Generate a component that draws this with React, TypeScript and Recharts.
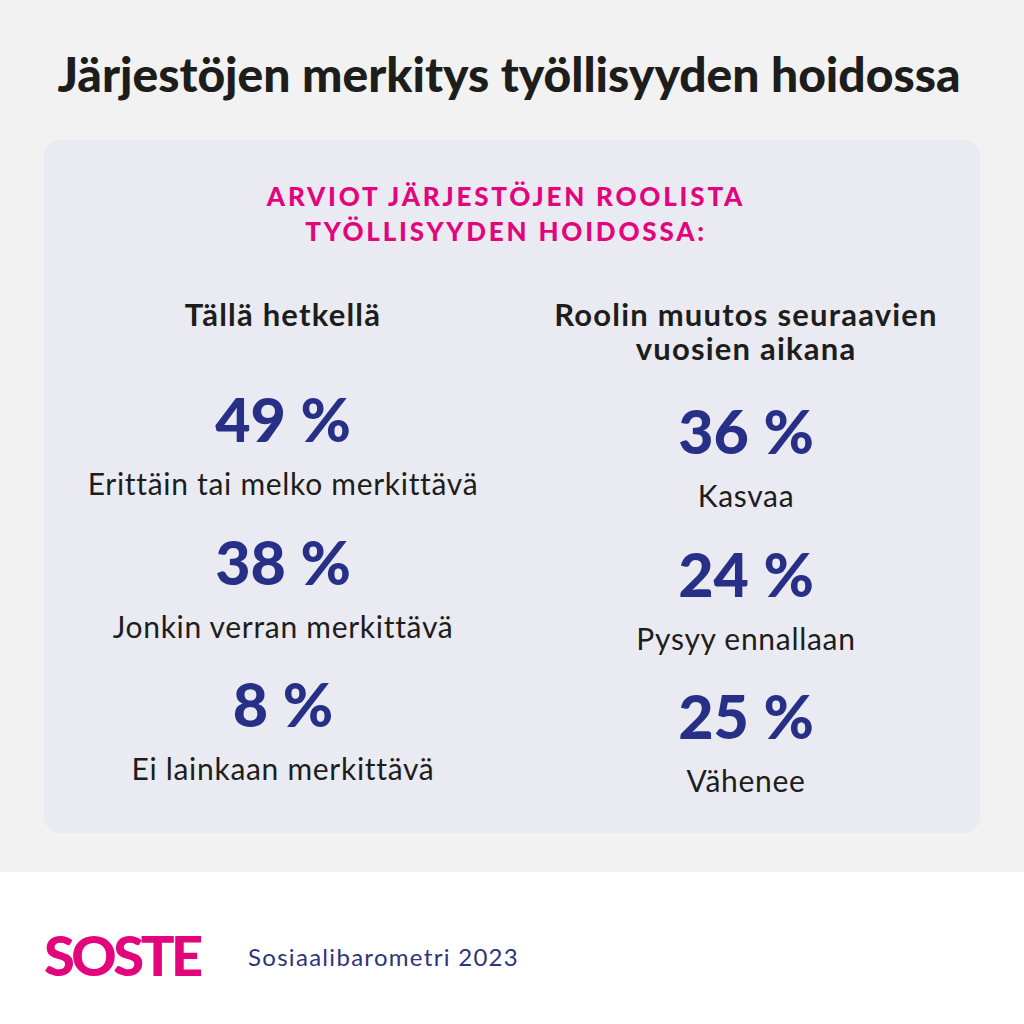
import { ScatterChart, Scatter, XAxis, YAxis } from 'recharts';

// columns of the infographic
const columnTitles = ['Tällä hetkellä', 'Roolin muutos seuraavien\nvuosien aikana'];

// "Tällä hetkellä"
const nowLabels = ['Erittäin tai melko merkittävä', 'Jonkin verran merkittävä', 'Ei lainkaan merkittävä'];
const nowValues = [49, 38, 8];

// "Roolin muutos seuraavien vuosien aikana"
const changeLabels = ['Kasvaa', 'Pysyy ennallaan', 'Vähenee'];
const changeValues = [36, 24, 25];

const NAVY = '#282f86';
const PINK = '#e2057c';
const INK = '#1d1d1b';
const FONT = 'Lato, "Noto Sans", sans-serif';

const points = [
  ...nowValues.map((v, i) => ({ col: 0, row: i, value: v, label: nowLabels[i] })),
  ...changeValues.map((v, i) => ({ col: 1, row: i, value: v, label: changeLabels[i] })),
];

function StatMark(props: any) {
  const { cx, cy, payload } = props;
  const y = cy + (payload.col === 0 ? -6 : 6);
  return (
    <g>
      <text
        x={cx}
        y={y + 22}
        textAnchor="middle"
        fill={NAVY}
        fontFamily={FONT}
        fontWeight={900}
        fontSize={61}
      >
        {payload.value} %
      </text>
      <text
        x={cx}
        y={y + 75}
        textAnchor="middle"
        fill={INK}
        fontFamily={FONT}
        fontSize={30}
        letterSpacing={0.7}
      >
        {payload.label}
      </text>
    </g>
  );
}

export default function App() {
  return (
    <div style={{ position: 'absolute', left: 0, top: 0, width: 1024, height: 1024, background: '#f2f2f2', fontFamily: FONT, overflow: 'hidden' }}>
      <div style={{ position: 'absolute', left: 0, top: 44, width: 1018, textAlign: 'center', fontSize: 48, fontWeight: 900, color: INK, lineHeight: '60px' }}>
        Järjestöjen merkitys työllisyyden hoidossa
      </div>
      <div style={{ position: 'absolute', left: 44, top: 140, width: 936, height: 693, borderRadius: 16, background: '#eaeaf3' }} />
      <div style={{ position: 'absolute', left: 0, top: 179, width: 1012, textAlign: 'center', fontSize: 26, fontWeight: 900, color: PINK, lineHeight: '35px', letterSpacing: 2.8 }}>
        ARVIOT JÄRJESTÖJEN ROOLISTA<br />TYÖLLISYYDEN HOIDOSSA:
      </div>
      {columnTitles.map((t, i) => (
        <div
          key={t}
          style={{ position: 'absolute', left: i === 0 ? 83 : 546, top: 297, width: 400, textAlign: 'center', fontSize: 31, fontWeight: 700, color: INK, lineHeight: '34px', letterSpacing: 1.2, whiteSpace: 'pre-line' }}
        >
          {t}
        </div>
      ))}
      <div style={{ position: 'absolute', left: 0, top: 872, width: 1024, height: 152, background: '#ffffff' }} />
      <div style={{ position: 'absolute', left: 44, top: 925, fontSize: 56, fontWeight: 900, color: PINK, lineHeight: '60px', letterSpacing: -3.5 }}>
        SOSTE
      </div>
      <div style={{ position: 'absolute', left: 248, top: 942, fontSize: 24, color: '#2f3379', lineHeight: '30px', letterSpacing: 1.3 }}>
        Sosiaalibarometri 2023
      </div>
      <div style={{ position: 'absolute', left: 0, top: 0 }}>
        <ScatterChart width={1024} height={1024} margin={{ top: 426, bottom: 313, left: 283, right: 278 }}>
          <XAxis type="number" dataKey="col" domain={[0, 1]} hide />
          <YAxis type="number" dataKey="row" domain={[0, 2]} reversed hide />
          <Scatter data={points} shape={StatMark} isAnimationActive={false} />
        </ScatterChart>
      </div>
    </div>
  );
}
